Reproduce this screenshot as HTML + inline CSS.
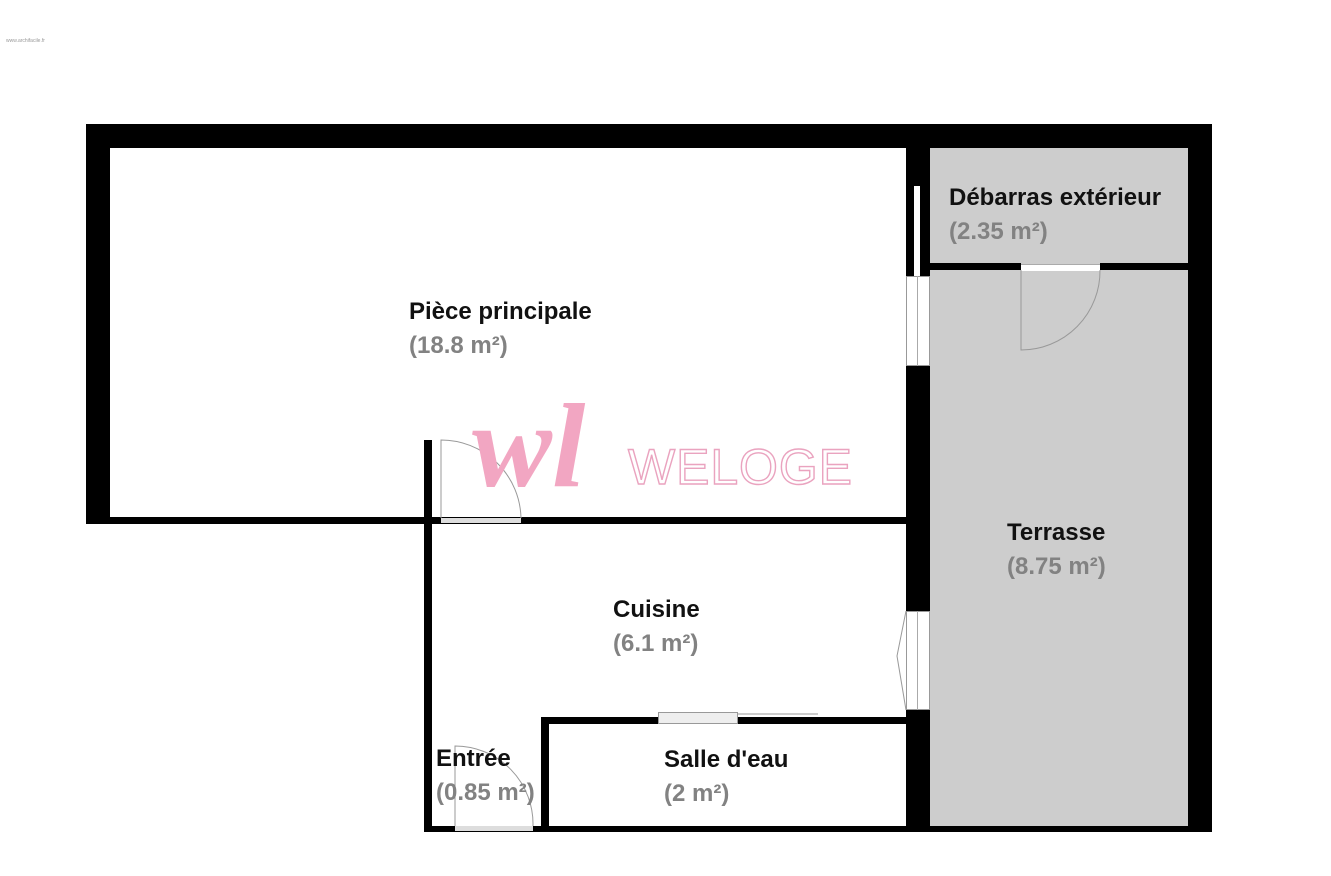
<!DOCTYPE html>
<html><head><meta charset="utf-8"><style>
body{margin:0;width:1331px;height:876px;background:#fff;position:relative;overflow:hidden;font-family:"Liberation Sans",sans-serif}
.b{position:absolute;background:#000}
.g{position:absolute;background:#cdcdcd}
.w{position:absolute;background:#fff}
.t{position:absolute;font-weight:bold;font-size:24px;line-height:34px;color:#111;white-space:nowrap}
.t span{color:#828282}
</style></head><body>
<div style="position:absolute;left:6px;top:38px;font-size:5px;color:#999">www.archifacile.fr</div>
<div class="g" style="left:930px;top:148px;width:258px;height:680px"></div>
<div class="b" style="left:86px;top:124px;width:1126px;height:24px"></div>
<div class="b" style="left:86px;top:124px;width:24px;height:400px"></div>
<div class="b" style="left:86px;top:517px;width:844px;height:7px"></div>
<div class="b" style="left:1188px;top:124px;width:24px;height:708px"></div>
<div class="b" style="left:424px;top:826px;width:788px;height:6px"></div>
<div class="b" style="left:906px;top:124px;width:24px;height:62px"></div>
<div class="b" style="left:906px;top:186px;width:8px;height:90px"></div>
<div class="b" style="left:920px;top:186px;width:10px;height:90px"></div>
<div class="w" style="left:906px;top:276px;width:24px;height:90px;box-sizing:border-box;border:1px solid #999"></div>
<div style="position:absolute;left:917px;top:276px;width:1px;height:90px;background:#aaa"></div>
<div class="b" style="left:906px;top:366px;width:24px;height:245px"></div>
<div class="w" style="left:906px;top:611px;width:24px;height:99px;box-sizing:border-box;border:1px solid #999"></div>
<div style="position:absolute;left:917px;top:611px;width:1px;height:99px;background:#aaa"></div>
<div class="b" style="left:906px;top:710px;width:24px;height:122px"></div>
<div class="b" style="left:930px;top:263px;width:91px;height:7px"></div>
<div class="b" style="left:1100px;top:263px;width:88px;height:7px"></div>
<div class="w" style="left:1021px;top:264px;width:79px;height:6px;border-top:1px solid #aaa"></div>
<div class="b" style="left:424px;top:440px;width:8px;height:392px"></div>
<div class="w" style="left:441px;top:518px;width:80px;height:5px;background:#ddd"></div>
<div class="b" style="left:541px;top:717px;width:117px;height:7px"></div>
<div class="b" style="left:738px;top:717px;width:168px;height:7px"></div>
<div class="w" style="left:658px;top:712px;width:80px;height:12px;box-sizing:border-box;border:1px solid #999;background:#eee"></div>
<div class="b" style="left:541px;top:717px;width:8px;height:115px"></div>
<div class="w" style="left:455px;top:826px;width:78px;height:5px;background:#ddd"></div>
<svg width="1331" height="876" style="position:absolute;left:0;top:0" fill="none" stroke="#999" stroke-width="1">
<path d="M441 518V440A80 80 0 0 1 521 518"/>
<path d="M1021 270V350A79 79 0 0 0 1100 270"/>
<path d="M455 826V746A78 78 0 0 1 533 826"/>
<path d="M738 714H818"/>
<path d="M906 611L897 656L906 710"/>
<text x="628" y="484" font-family="Liberation Sans" font-size="50" textLength="224" fill="none" stroke="#eaa3bf" stroke-width="1.4">WELOGE</text>
<text x="472" y="486" font-family="Liberation Serif" font-style="italic" font-weight="bold" font-size="120" fill="#f2a6c2" stroke="none">wl</text>
</svg>
<div class="t" style="left:409px;top:295px">Pièce principale<br><span>(18.8 m²)</span></div>
<div class="t" style="left:949px;top:181px">Débarras extérieur<br><span>(2.35 m²)</span></div>
<div class="t" style="left:1007px;top:516px">Terrasse<br><span>(8.75 m²)</span></div>
<div class="t" style="left:613px;top:593px">Cuisine<br><span>(6.1 m²)</span></div>
<div class="t" style="left:436px;top:742px">Entrée<br><span>(0.85 m²)</span></div>
<div class="t" style="left:664px;top:743px">Salle d'eau<br><span>(2 m²)</span></div>
</body></html>
